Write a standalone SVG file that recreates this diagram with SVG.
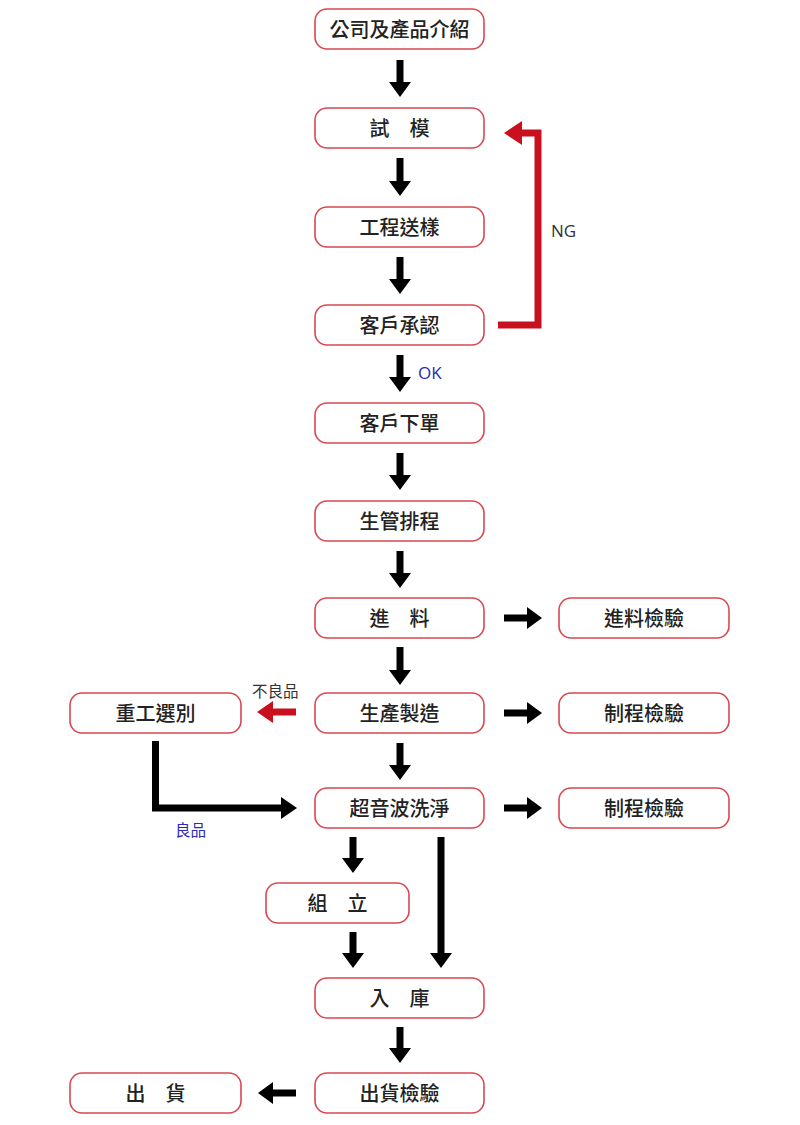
<svg xmlns="http://www.w3.org/2000/svg" width="800" height="1125" viewBox="0 0 800 1125">
<style>
.n rect{fill:#fff;stroke:#d9474f;stroke-width:1.6}
.n text{font-family:"Noto Sans CJK TC","Noto Sans CJK SC",sans-serif;font-size:20px;font-weight:500;fill:#222;text-anchor:middle;dominant-baseline:central}
.lbl{font-family:"Noto Sans CJK TC","Noto Sans",sans-serif;font-size:15.5px;dominant-baseline:central}
.lat{font-family:"Open Sans","Noto Sans",sans-serif;font-size:17px;dominant-baseline:central}
.blk{fill:#000}
.red{fill:#c8101e}
</style>
<rect width="800" height="1125" fill="#fff"/>
<g id="connectors">
<polygon class="blk" points="396.5,60 403.5,60 403.5,82 411,82 400,97 389,82 396.5,82"/>
<polygon class="blk" points="396.5,158 403.5,158 403.5,181 411,181 400,196 389,181 396.5,181"/>
<polygon class="blk" points="396.5,257 403.5,257 403.5,279 411,279 400,294 389,279 396.5,279"/>
<polygon class="blk" points="396.5,355 403.5,355 403.5,377 411,377 400,392 389,377 396.5,377"/>
<polygon class="blk" points="396.5,453 403.5,453 403.5,475 411,475 400,490 389,475 396.5,475"/>
<polygon class="blk" points="396.5,551 403.5,551 403.5,573 411,573 400,588 389,573 396.5,573"/>
<polygon class="blk" points="396.5,647 403.5,647 403.5,670 411,670 400,685 389,670 396.5,670"/>
<polygon class="blk" points="396.5,743 403.5,743 403.5,765 411,765 400,780 389,765 396.5,765"/>
<polygon class="blk" points="396.5,1027 403.5,1027 403.5,1048 411,1048 400,1063 389,1048 396.5,1048"/>
<polygon class="blk" points="349.5,837 356.5,837 356.5,858 364,858 353,873 342,858 349.5,858"/>
<polygon class="blk" points="349.5,932 356.5,932 356.5,953 364,953 353,968 342,953 349.5,953"/>
<polygon class="blk" points="437.5,837 444.5,837 444.5,953 452,953 441,968 430,953 437.5,953"/>
<polygon class="blk" points="504,614.5 527,614.5 527,607 542,618 527,629 527,621.5 504,621.5"/>
<polygon class="blk" points="504,709.5 527,709.5 527,702 542,713 527,724 527,716.5 504,716.5"/>
<polygon class="blk" points="504,804.5 527,804.5 527,797 542,808 527,819 527,811.5 504,811.5"/>
<polygon class="red" points="296,708.5 273,708.5 273,701 257,712 273,723 273,715.5 296,715.5"/>
<polygon class="blk" points="296,1089.5 273,1089.5 273,1082 258,1093 273,1104 273,1096.5 296,1096.5"/>
<polyline points="498,325 538,325 538,133 520,133" fill="none" stroke="#c8101e" stroke-width="7"/>
<polygon class="red" points="522,121 504,133 522,145"/>
<polyline points="155.5,741 155.5,808 282,808" fill="none" stroke="#000" stroke-width="7"/>
<polygon class="blk" points="281,797 297,808 281,819"/>
<text class="lat" x="551" y="230" fill="#333">NG</text>
<text class="lat" x="418" y="372" fill="#2a2ab8">OK</text>
<text class="lbl" x="252" y="690" fill="#333">不良品</text>
<text class="lbl" x="175" y="829" fill="#2a2ab8">良品</text>
</g>
<g id="n1" class="n"><rect x="315" y="9" width="169" height="40" rx="12"/><text x="399.5" y="28">公司及產品介紹</text></g>
<g id="n2" class="n"><rect x="315" y="108" width="169" height="40" rx="12"/><text x="399.5" y="127">試　模</text></g>
<g id="n3" class="n"><rect x="315" y="207" width="169" height="40" rx="12"/><text x="399.5" y="226">工程送樣</text></g>
<g id="n4" class="n"><rect x="315" y="305" width="169" height="40" rx="12"/><text x="399.5" y="324">客戶承認</text></g>
<g id="n5" class="n"><rect x="315" y="403" width="169" height="40" rx="12"/><text x="399.5" y="422">客戶下單</text></g>
<g id="n6" class="n"><rect x="315" y="501" width="169" height="40" rx="12"/><text x="399.5" y="520">生管排程</text></g>
<g id="n7" class="n"><rect x="315" y="598" width="169" height="40" rx="12"/><text x="399.5" y="617">進　料</text></g>
<g id="n8" class="n"><rect x="559" y="598" width="170" height="40" rx="12"/><text x="644" y="617">進料檢驗</text></g>
<g id="n9" class="n"><rect x="315" y="693" width="169" height="40" rx="12"/><text x="399.5" y="712">生產製造</text></g>
<g id="n10" class="n"><rect x="559" y="693" width="170" height="40" rx="12"/><text x="644" y="712">制程檢驗</text></g>
<g id="n11" class="n"><rect x="70" y="693" width="171" height="40" rx="12"/><text x="155.5" y="712">重工選別</text></g>
<g id="n12" class="n"><rect x="315" y="788" width="169" height="40" rx="12"/><text x="399.5" y="807">超音波洗淨</text></g>
<g id="n13" class="n"><rect x="559" y="788" width="170" height="40" rx="12"/><text x="644" y="807">制程檢驗</text></g>
<g id="n14" class="n"><rect x="266" y="883" width="143" height="40" rx="12"/><text x="337.5" y="902">組　立</text></g>
<g id="n15" class="n"><rect x="315" y="978" width="169" height="40" rx="12"/><text x="399.5" y="997">入　庫</text></g>
<g id="n16" class="n"><rect x="315" y="1073" width="169" height="40" rx="12"/><text x="399.5" y="1092">出貨檢驗</text></g>
<g id="n17" class="n"><rect x="70" y="1073" width="171" height="40" rx="12"/><text x="155.5" y="1092">出　貨</text></g>
</svg>
